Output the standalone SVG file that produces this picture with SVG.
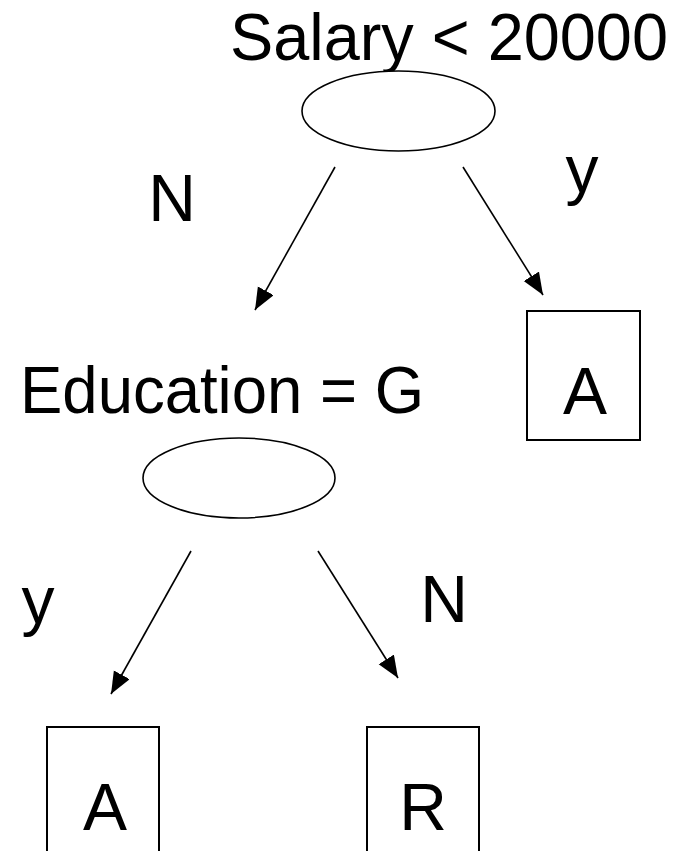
<svg xmlns="http://www.w3.org/2000/svg" width="680" height="851" viewBox="0 0 680 851">
<style>
.t{font-family:"Liberation Sans","DejaVu Sans",sans-serif;font-size:66px;fill:#000}
.e{fill:#fff;stroke:#000;stroke-width:1.6}
.b{fill:#fff;stroke:#000;stroke-width:2}
.c{stroke:#000;stroke-width:1.6;fill:none;marker-end:url(#ah)}
</style>
<defs>
<marker id="ah" markerUnits="userSpaceOnUse" markerWidth="24" markerHeight="20" refX="22" refY="9" orient="auto">
<path d="M0,0 L22,9 L0,18 z" fill="#000"/>
</marker>
</defs>
<rect width="680" height="851" fill="#fff"/>
<g id="connectors">
<line class="c" x1="335" y1="167" x2="255" y2="310"/>
<line class="c" x1="463" y1="167" x2="543" y2="295"/>
<line class="c" x1="191" y1="551" x2="111" y2="694"/>
<line class="c" x1="318" y1="551" x2="398" y2="678"/>
<text class="t" x="172" y="221" text-anchor="middle">N</text>
<text class="t" x="582" y="192" text-anchor="middle">y</text>
<text class="t" x="38" y="623" text-anchor="middle">y</text>
<text class="t" x="444" y="622" text-anchor="middle">N</text>
</g>
<g id="salary">
<text class="t" x="230" y="60" textLength="438" lengthAdjust="spacingAndGlyphs">Salary &lt; 20000</text>
<ellipse class="e" cx="398.5" cy="111" rx="96.5" ry="40"/>
</g>
<g id="education">
<text class="t" x="20" y="413" textLength="404" lengthAdjust="spacingAndGlyphs">Education = G</text>
<ellipse class="e" cx="239" cy="478" rx="96" ry="40"/>
</g>
<g id="leafA1">
<rect class="b" x="527" y="311" width="113" height="129"/>
<text class="t" x="585" y="414" text-anchor="middle">A</text>
</g>
<g id="leafA2">
<rect class="b" x="47" y="727" width="112" height="140"/>
<text class="t" x="105" y="830" text-anchor="middle">A</text>
</g>
<g id="leafR">
<rect class="b" x="367" y="727" width="112" height="140"/>
<text class="t" x="423" y="830" text-anchor="middle">R</text>
</g>
</svg>
